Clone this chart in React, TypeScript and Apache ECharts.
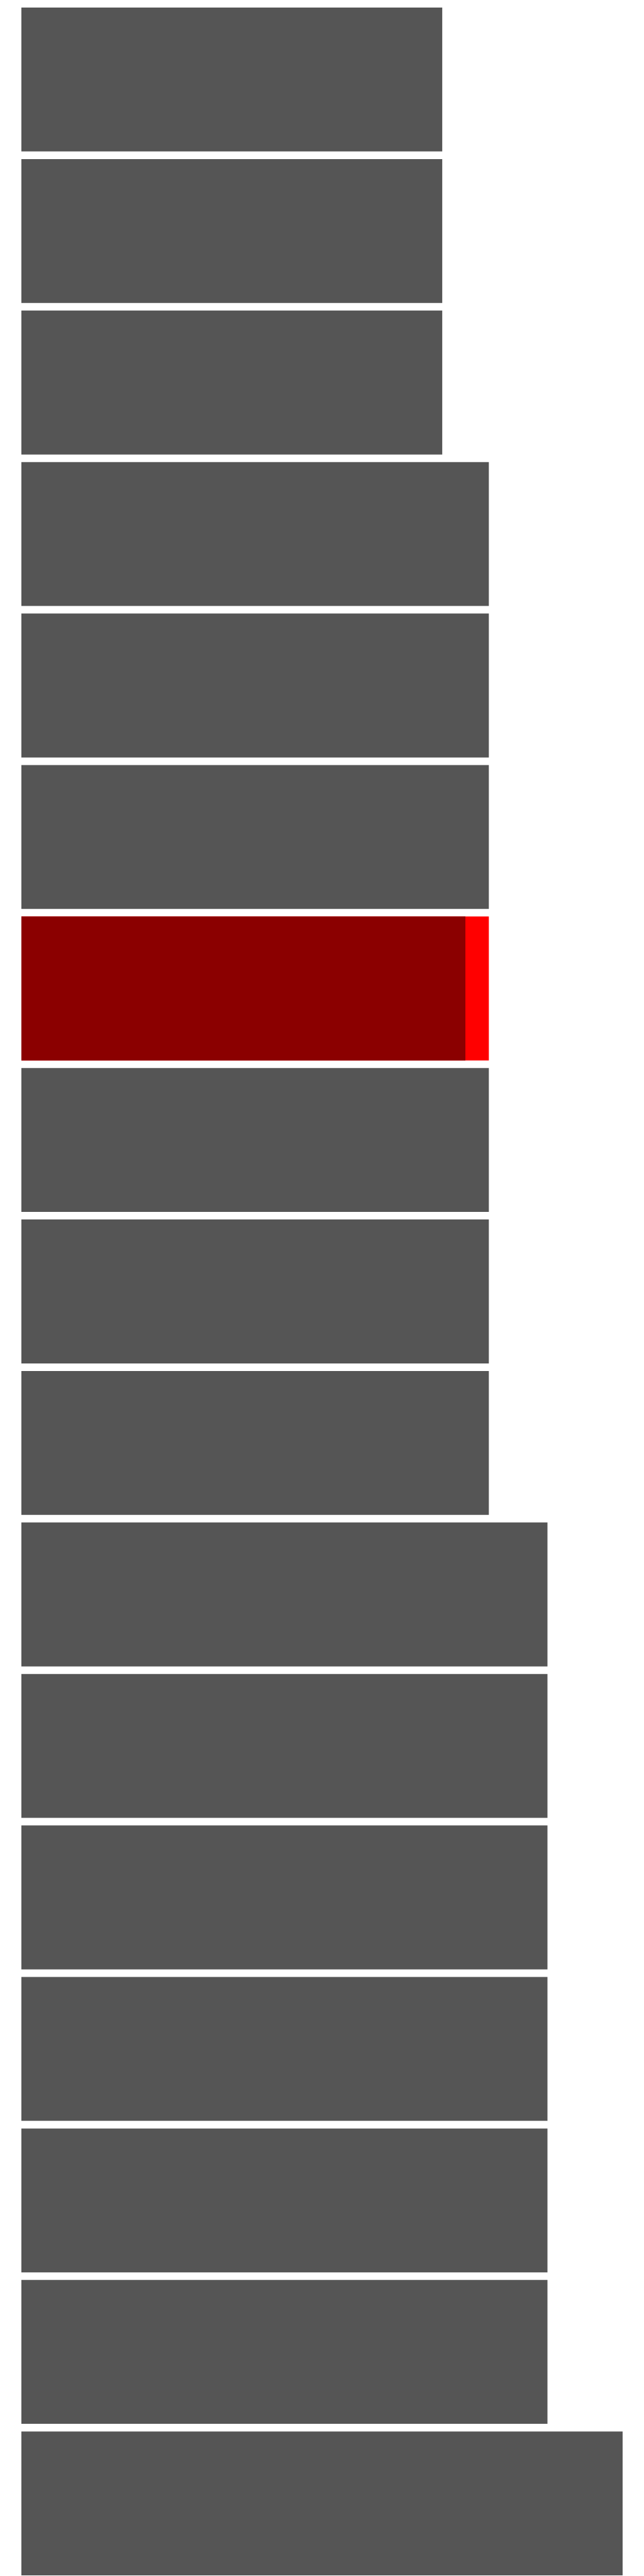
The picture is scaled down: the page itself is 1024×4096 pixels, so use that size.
import React, { useEffect, useRef } from "react";
import * as echarts from "echarts";

const categories = [
  "R1", "R2", "R3", "R4", "R5", "R6", "R7", "R8", "R9",
  "R10", "R11", "R12", "R13", "R14", "R15", "R16", "R17",
];
const totalValues = [
  14, 14, 14, 15.55, 15.55, 15.55, 15.55, 15.55, 15.55, 15.55,
  17.5, 17.5, 17.5, 17.5, 17.5, 17.5, 20,
];
const highlightIndex = 6;
const highlightInner = 14.77;

const GREY = "#555555";
const RED = "#ff0000";
const DARK_RED = "#8b0000";

export default function App() {
  const ref = useRef<HTMLDivElement>(null);
  useEffect(() => {
    if (!ref.current) return;
    const chart = echarts.init(ref.current, undefined, { renderer: "svg" });
    const outer = totalValues.map((v, i) => ({
      value: v,
      itemStyle: { color: i === highlightIndex ? RED : GREY },
    }));
    const inner = totalValues.map((_, i) =>
      i === highlightIndex ? { value: highlightInner, itemStyle: { color: DARK_RED } } : null
    );
    chart.setOption({
      animation: false,
      grid: { left: 34, right: 34, top: 6, bottom: 9 },
      xAxis: { type: "value", min: 0, max: 20, show: false },
      yAxis: { type: "category", data: categories, inverse: true, show: false },
      series: [
        {
          type: "bar",
          data: outer,
          barCategoryGap: "5%",
          barGap: "-100%",
          silent: true,
        },
        {
          type: "bar",
          data: inner,
          barCategoryGap: "5%",
          barGap: "-100%",
          silent: true,
        },
      ],
    });
    return () => chart.dispose();
  }, []);
  return (
    <div
      ref={ref}
      style={{ position: "absolute", left: 0, top: 0, width: 1024, height: 4110 }}
    />
  );
}
